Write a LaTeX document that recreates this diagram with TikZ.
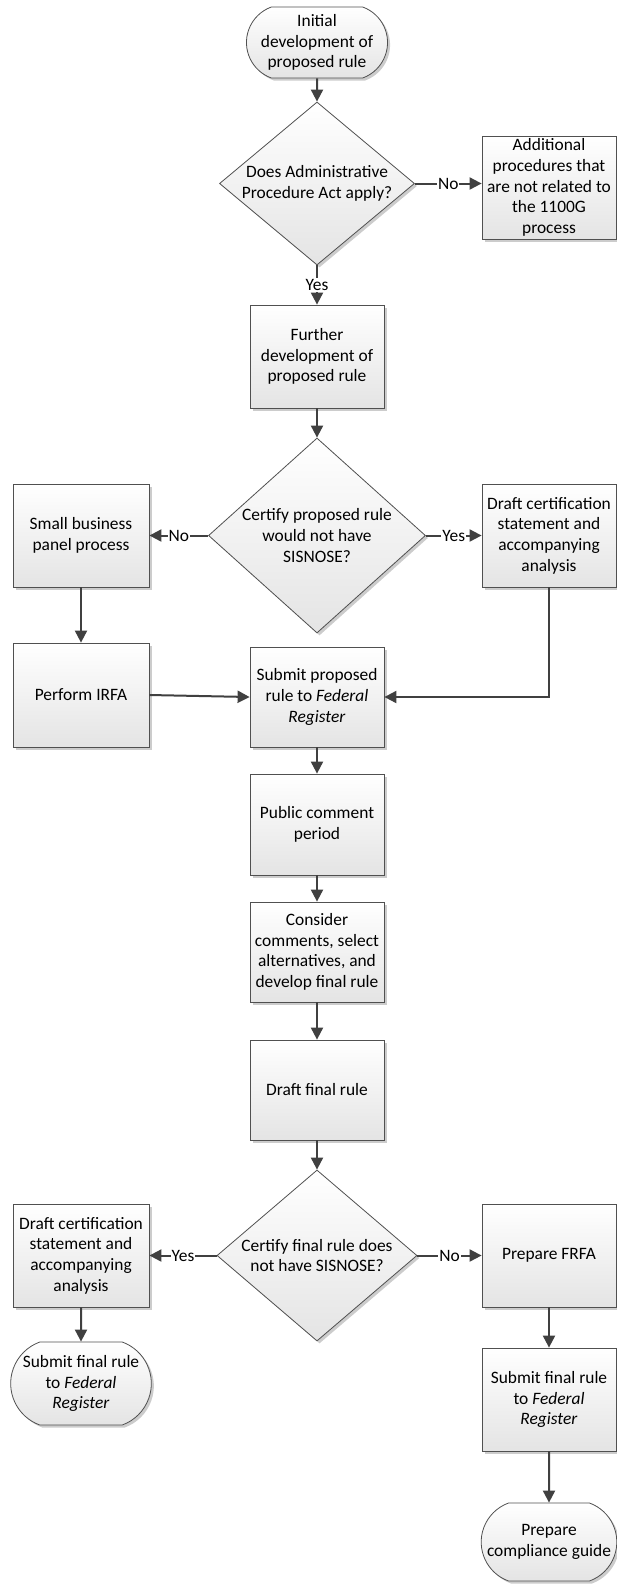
\documentclass[tikz,border=0pt]{standalone}
\usepackage{fontspec}
\setmainfont{Carlito}
\usetikzlibrary{shapes.geometric,shapes.misc,shadows,arrows.meta}
\definecolor{edgec}{HTML}{505050}
\definecolor{arrc}{HTML}{404040}
\definecolor{fillbot}{HTML}{E4E4E4}
\begin{document}
\begin{tikzpicture}[x=1pt,y=-1pt,
  font=\fontsize{17.4}{20.6}\selectfont,
  base/.style={draw=edgec, line width=0.8pt, top color=white, bottom color=fillbot,
    drop shadow={shadow xshift=2.5pt, shadow yshift=-2.5pt, fill=black!20, opacity=1},
    align=center, inner xsep=2pt, inner ysep=0pt},
  box/.style={base, rectangle, minimum width=134pt, minimum height=103pt},
  term/.style={base, rounded rectangle, rounded rectangle arc length=140},
  dia/.style={base, diamond, inner sep=0pt},
  dtext/.style={align=center, inner sep=0pt},
  conn/.style={draw=arrc, line width=2pt, -{Triangle[length=12pt,width=12pt]}},
  lbl/.style={fill=white, inner sep=1pt}
]
\useasboundingbox (0,0) rectangle (617,1591);

\node[term, minimum width=138pt, minimum height=71pt] (init) at (317,42.5) {Initial\\development of\\proposed rule};
\node[dia, minimum width=195pt, minimum height=163pt,
  label={[dtext]center:{Does Administrative\\Procedure Act apply?}}] (d1) at (317,183.5) {};
\node[box] (add) at (549,187.5) {Additional\\procedures that\\are not related to\\the 1100G\\process};
\node[box] (further) at (317,356.5) {Further\\development of\\proposed rule};
\node[dia, minimum width=217pt, minimum height=195pt,
  label={[dtext]center:{Certify proposed rule\\would not have\\SISNOSE?}}] (d2) at (317,535.5) {};
\node[box, minimum width=136pt] (small) at (81,535.5) {Small business\\panel process};
\node[box] (draftP) at (549,535.5) {Draft certification\\statement and\\accompanying\\analysis};
\node[box, minimum width=136pt, minimum height=104pt] (irfa) at (81,695) {Perform IRFA};
\node[box, minimum height=100pt] (submitP) at (317,697) {Submit proposed\\rule to \textit{Federal}\\\textit{Register}};
\node[box, minimum height=101pt] (public) at (317,824.5) {Public comment\\period};
\node[box, minimum height=100pt] (consider) at (317,952) {Consider\\comments, select\\alternatives, and\\develop final rule};
\node[box, minimum height=100pt] (draftF) at (317,1090) {Draft final rule};
\node[dia, minimum width=200pt, minimum height=171pt,
  label={[dtext]center:{Certify final rule does\\not have SISNOSE?}}] (d3) at (317,1255.5) {};
\node[box, minimum width=136pt] (draftL) at (81,1255.5) {Draft certification\\statement and\\accompanying\\analysis};
\node[box] (frfa) at (549,1255.5) {Prepare FRFA};
\node[term, minimum width=136pt, minimum height=83pt] (submitL) at (81,1383.5) {Submit final rule\\to \textit{Federal}\\\textit{Register}};
\node[box] (submitR) at (549,1399.5) {Submit final rule\\to \textit{Federal}\\\textit{Register}};
\node[term, minimum width=134pt, minimum height=78pt] (comply) at (549,1542) {Prepare\\compliance guide};

\draw[conn] (init) -- (d1);
\draw[conn] (d1.east) -- node[lbl]{No} (d1.east -| add.west);
\draw[conn] (d1.south) -- node[lbl]{Yes} (further.north);
\draw[conn] (further) -- (d2);
\draw[conn] (d2.west) -- node[lbl]{No} (small.east);
\draw[conn] (d2.east) -- node[lbl]{Yes} (draftP.west);
\draw[conn] (small) -- (irfa);
\draw[conn] (irfa.east) -- (submitP.west);
\draw[conn] (draftP.south) |- (submitP.east);
\draw[conn] (submitP) -- (public);
\draw[conn] (public) -- (consider);
\draw[conn] (consider) -- (draftF);
\draw[conn] (draftF) -- (d3);
\draw[conn] (d3.west) -- node[lbl]{Yes} (draftL.east);
\draw[conn] (d3.east) -- node[lbl]{No} (frfa.west);
\draw[conn] (draftL) -- (submitL);
\draw[conn] (frfa) -- (submitR);
\draw[conn] (submitR) -- (comply);
\end{tikzpicture}
\end{document}
